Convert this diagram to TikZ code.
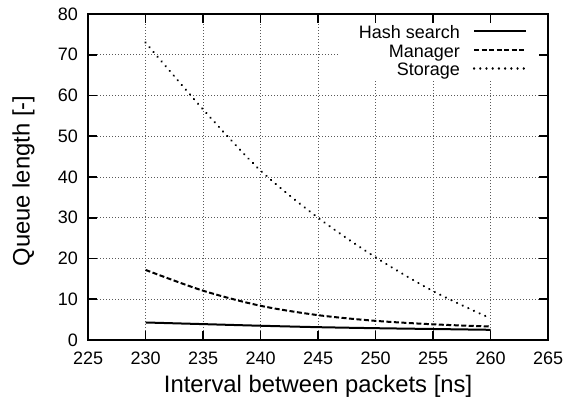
\documentclass[tikz,border=0pt]{standalone}
\usepackage{fontspec}
\setmainfont{Liberation Sans}
\usetikzlibrary{positioning}
\tikzset{%
  frame/.style={line width=1.7pt},
  tickmark/.style={line width=1.6pt},
  gridline/.style={black!65,line width=0.9pt,dash pattern=on 0.9pt off 2.1pt},
  ticklabel/.style={font=\fontsize{18}{18}\selectfont,inner sep=0pt},
  axislabel/.style={font=\fontsize{23.8}{23.8}\selectfont,inner sep=0pt},
  keylabel/.style={font=\fontsize{18}{18}\selectfont,inner sep=0pt,anchor=base east},
  hashline/.style={line width=2pt},
  mgrline/.style={line width=2pt,dash pattern=on 5pt off 2.5pt},
  storline/.style={line width=2.4pt,dash pattern=on 0.01pt off 6.2pt,line cap=round},
}

\begin{document}
\begin{tikzpicture}[x=11.5pt,y=4.075pt]
  \useasboundingbox (217.348,-15.215) rectangle (266.739,83.436);

  % grid
  \foreach \x in {230,235,...,260}
    \draw[gridline] (\x,0) -- (\x,80);
  \foreach \y in {10,20,...,70}
    \draw[gridline] (225,\y) -- (265,\y);

  % key background
  \fill[white] (246.74,64.0) rectangle (265,78.3);

  % data
  \draw[storline] plot[smooth] coordinates {(230,73) (235,56.6) (240,41.6) (245,30) (250,20.3) (255,12) (260,5.3)};
  \draw[mgrline] plot[smooth] coordinates {(230,17.2) (235,12.1) (240,8.4) (245,6.1) (250,4.7) (255,3.85) (260,3.3)};
  \draw[hashline] plot[smooth] coordinates {(230,4.3) (235,3.9) (240,3.5) (245,3.15) (250,2.9) (255,2.7) (260,2.5)};

  % frame, ticks and tick labels
  \draw[frame] (225,0) rectangle (265,80);
  \foreach \x in {225,230,...,265} {
    \draw[tickmark] (\x,0) -- ++(0,9pt);
    \draw[tickmark] (\x,80) -- ++(0,-9pt);
    \node[ticklabel,below=12pt] (xt\x) at (\x,0) {\x};
  }
  \foreach \y in {0,10,...,80} {
    \draw[tickmark] (225,\y) -- ++(9pt,0);
    \draw[tickmark] (265,\y) -- ++(-9pt,0);
    \node[ticklabel,left=10pt] (yt\y) at (225,\y) {\y};
  }

  % axis labels
  \node[axislabel,anchor=base] (xlabel) at ([yshift=-52.5pt]245,0) {Interval between packets [ns]};
  \node[axislabel,anchor=base,rotate=90] (ylabel) at ([xshift=-58.5pt]225,39) {Queue length [-]};

  % key
  \node[keylabel] (hashkey) at (257.35,73.87) {Hash search};
  \node[keylabel] (mgrkey) at (257.35,69.33) {Manager};
  \node[keylabel] (storkey) at (257.35,64.79) {Storage};
  \draw[hashline] ([xshift=14pt,yshift=7.5pt]hashkey.base east) -- ++(52pt,0);
  \draw[mgrline] ([xshift=14pt,yshift=7.5pt]mgrkey.base east) -- ++(52pt,0);
  \draw[storline] ([xshift=14pt,yshift=7.5pt]storkey.base east) -- ++(52pt,0);
\end{tikzpicture}
\end{document}
